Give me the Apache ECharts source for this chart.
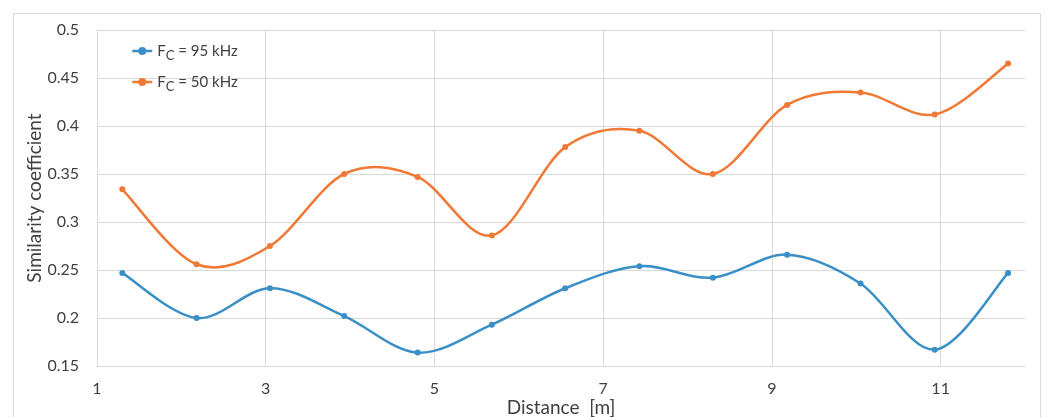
<!DOCTYPE html>
<html>
<head>
<meta charset="utf-8">
<script src="https://cdn.jsdelivr.net/npm/echarts@6/dist/echarts.min.js"></script>
<style>
html,body{margin:0;padding:0;background:#fff;}
#main{width:1046px;height:417px;}
</style>
</head>
<body>
<div id="main"></div>
<script>
const distance = [1.3, 2.18, 3.05, 3.93, 4.8, 5.68, 6.55, 7.43, 8.3, 9.18, 10.05, 10.93, 11.8];
const fc95 = [0.247, 0.200, 0.231, 0.202, 0.164, 0.193, 0.231, 0.254, 0.242, 0.266, 0.236, 0.167, 0.247];
const fc50 = [0.334, 0.256, 0.275, 0.350, 0.347, 0.286, 0.378, 0.395, 0.350, 0.422, 0.435, 0.412, 0.465];
const seriesNames = ['FC = 95 kHz', 'FC = 50 kHz'];
const xTitle = 'Distance  [m]';
const yTitle = 'Similarity coefficient';

const font = 'Lato, "Open Sans", sans-serif';
const txt = '#404040';
const gridColor = '#d9d9d9';
const colors = ['#3a8fc6', '#f07a35'];

// Excel-like smoothed curve (Catmull-Rom) drawn through the axis scales
function smoothCurve(values, color) {
  return {
    type: 'custom',
    coordinateSystem: 'cartesian2d',
    silent: true,
    z: 1,
    data: distance.map((d, i) => [d, values[i]]),
    encode: {x: 0, y: 1},
    renderItem: function (params, api) {
      if (params.dataIndex !== 0) return null;
      const pts = distance.map((d, i) => api.coord([d, values[i]]));
      const n = pts.length;
      let path = 'M' + pts[0][0] + ' ' + pts[0][1];
      for (let i = 0; i < n - 1; i++) {
        const p0 = pts[Math.max(i - 1, 0)];
        const p1 = pts[i];
        const p2 = pts[i + 1];
        const p3 = pts[Math.min(i + 2, n - 1)];
        const c1x = p1[0] + (p2[0] - p0[0]) / 6;
        const c1y = p1[1] + (p2[1] - p0[1]) / 6;
        const c2x = p2[0] - (p3[0] - p1[0]) / 6;
        const c2y = p2[1] - (p3[1] - p1[1]) / 6;
        path += ' C' + c1x + ' ' + c1y + ' ' + c2x + ' ' + c2y + ' ' + p2[0] + ' ' + p2[1];
      }
      return {
        type: 'path',
        shape: {pathData: path},
        style: {fill: 'none', stroke: color, lineWidth: 2.5, lineJoin: 'round', lineCap: 'round'}
      };
    }
  };
}

const chart = echarts.init(document.getElementById('main'), null, {renderer: 'canvas'});
chart.setOption({
  animation: false,
  backgroundColor: '#ffffff',
  textStyle: {fontFamily: font},
  graphic: [{
    type: 'rect',
    shape: {x: 13.5, y: 13.5, width: 1027, height: 420},
    style: {fill: 'none', stroke: gridColor, lineWidth: 1},
    silent: true
  }],
  grid: {left: 97, right: 21, top: 30, bottom: 51, containLabel: false, outerBoundsMode: 'none'},
  legend: {
    orient: 'vertical',
    left: 126,
    top: 36,
    itemWidth: 20,
    itemHeight: 10,
    itemGap: 10,
    data: seriesNames,
    lineStyle: {opacity: 1, width: 2.5},
    formatter: function (name) {
      return '{f|F}{s|C}{t|' + name.slice(2) + '}';
    },
    textStyle: {
      color: txt,
      fontFamily: font,
      rich: {
        f: {fontSize: 15, color: txt, fontFamily: font, lineHeight: 22, verticalAlign: 'middle'},
        s: {fontSize: 13, color: txt, fontFamily: font, lineHeight: 22, verticalAlign: 'bottom', padding: [8, 0, 0, 0]},
        t: {fontSize: 15, color: txt, fontFamily: font, lineHeight: 22, verticalAlign: 'middle'}
      }
    }
  },
  xAxis: {
    type: 'value',
    min: 1,
    max: 12,
    interval: 2,
    name: xTitle,
    nameLocation: 'middle',
    nameGap: 32,
    nameMoveOverlap: false,
    nameTextStyle: {fontSize: 19, color: txt, fontFamily: font},
    axisLine: {show: true, lineStyle: {color: gridColor, width: 1}},
    axisTick: {show: false},
    axisLabel: {fontSize: 16, color: txt, margin: 15, showMaxLabel: false, fontFamily: font},
    splitLine: {show: true, showMaxLine: false, lineStyle: {color: gridColor, width: 1}}
  },
  yAxis: {
    type: 'value',
    min: 0.15,
    max: 0.5,
    interval: 0.05,
    name: yTitle,
    nameLocation: 'middle',
    nameRotate: 90,
    nameGap: 53,
    nameMoveOverlap: false,
    nameTextStyle: {fontSize: 19, color: txt, fontFamily: font},
    axisLine: {show: false},
    axisTick: {show: false},
    axisLabel: {fontSize: 16, color: txt, margin: 18, fontFamily: font},
    splitLine: {show: true, lineStyle: {color: gridColor, width: 1}}
  },
  series: [
    {
      name: seriesNames[0],
      type: 'line',
      z: 3,
      data: distance.map((d, i) => [d, fc95[i]]),
      symbol: 'circle',
      symbolSize: 6,
      lineStyle: {color: colors[0], width: 2.5, opacity: 0},
      itemStyle: {color: colors[0]}
    },
    {
      name: seriesNames[1],
      type: 'line',
      z: 3,
      data: distance.map((d, i) => [d, fc50[i]]),
      symbol: 'circle',
      symbolSize: 6,
      lineStyle: {color: colors[1], width: 2.5, opacity: 0},
      itemStyle: {color: colors[1]}
    },
    smoothCurve(fc95, colors[0]),
    smoothCurve(fc50, colors[1])
  ]
});
</script>
</body>
</html>
